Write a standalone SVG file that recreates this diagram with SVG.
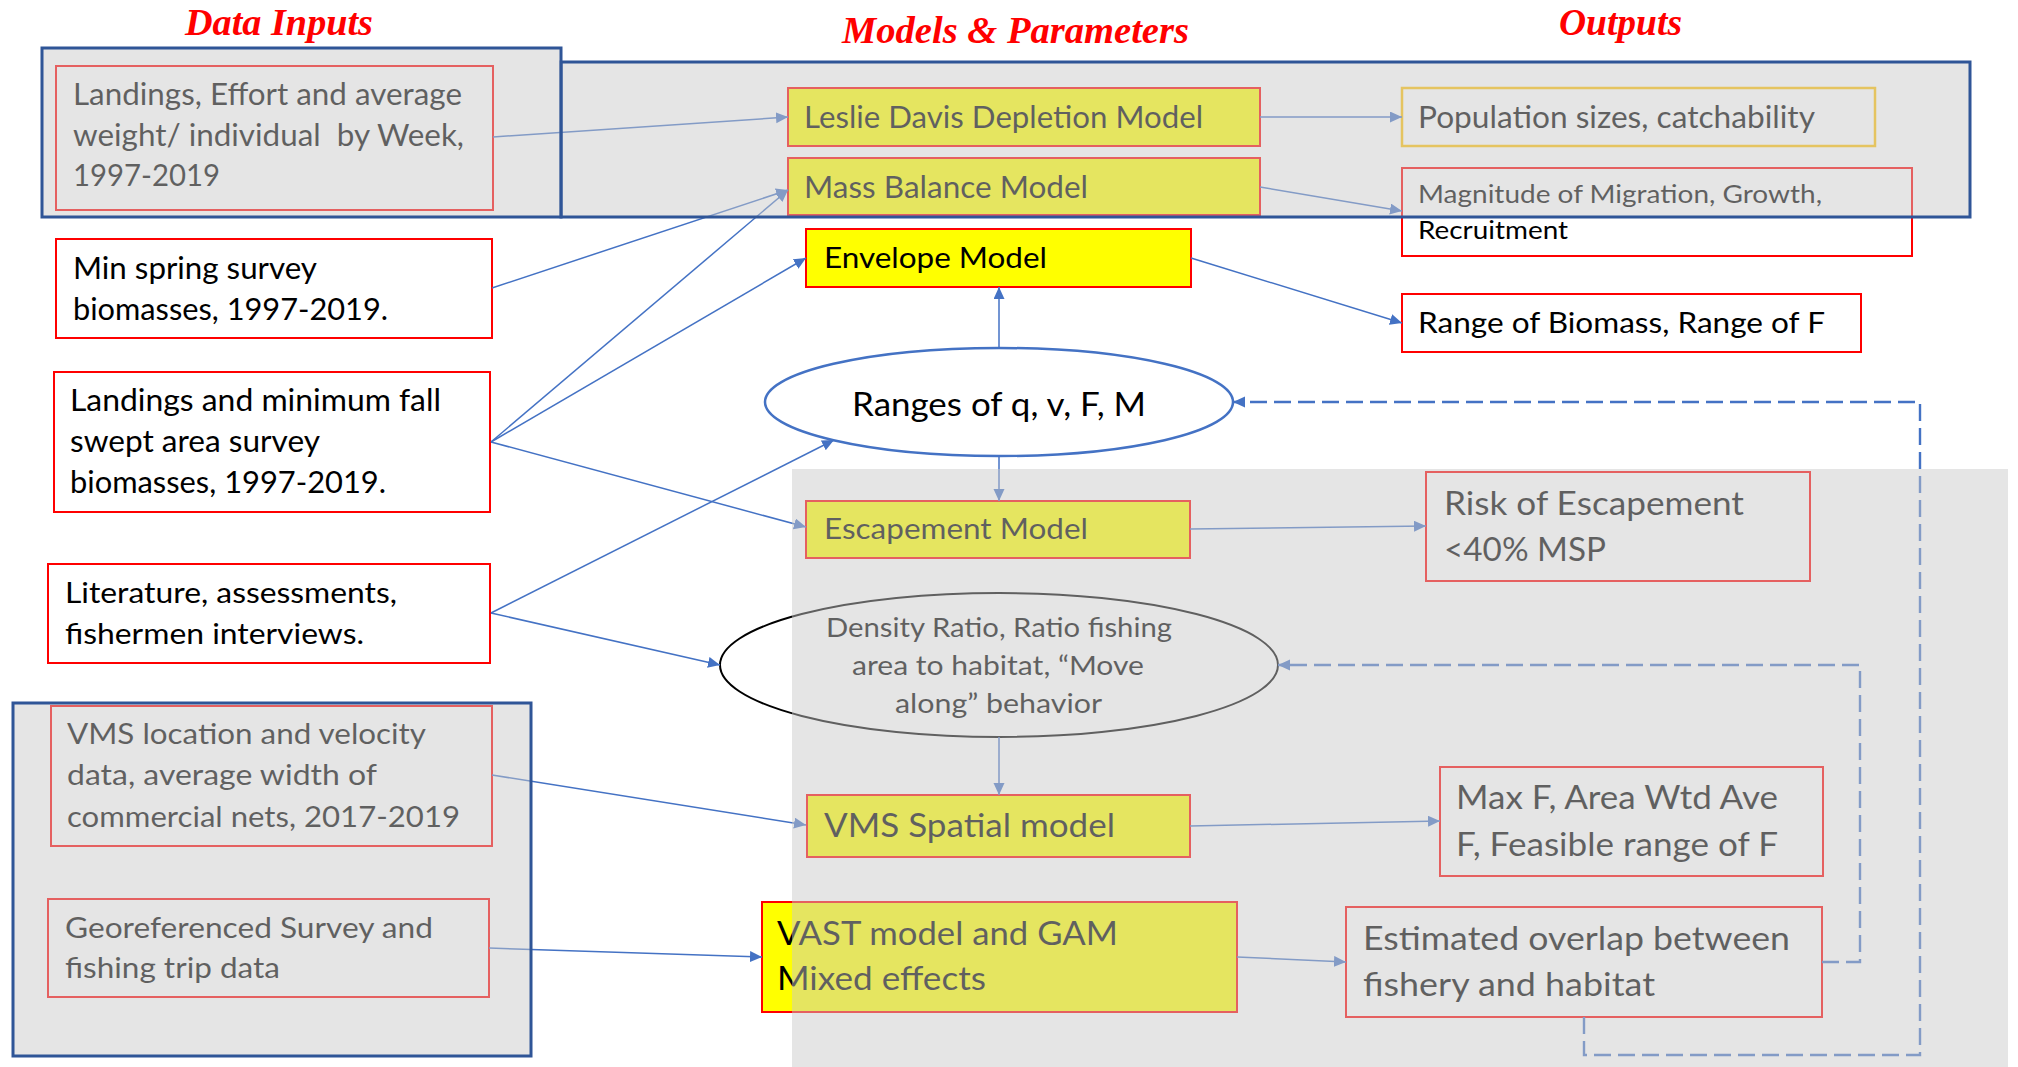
<svg xmlns="http://www.w3.org/2000/svg" width="2018" height="1067" viewBox="0 0 2018 1067">
  <style>
    .title { font-family: "Liberation Serif", "Times New Roman", serif; font-weight: bold; font-style: italic; font-size: 38px; fill: #FF0000; }
    .lbl { font-family: Lato, "Open Sans", sans-serif; fill: #000000; }
    .s25 { font-size: 25px; }
    .s26 { font-size: 26.5px; }
    .s28 { font-size: 28px; }
    .s30 { font-size: 30px; }
    .s32 { font-size: 32px; }
    .box { fill: #FFFFFF; stroke: #FF0000; stroke-width: 2; }
    .ybox { fill: #FFFF00; stroke: #FF0000; stroke-width: 2; }
    .gbox { fill: #FFFFFF; stroke: #FFC000; stroke-width: 2.5; }
    .conn { fill: none; stroke: #4472C4; stroke-width: 1.5; marker-end: url(#arrow); }
    .dash { fill: none; stroke: #4472C4; stroke-width: 2.4; stroke-dasharray: 17 7; marker-end: url(#arrow); }
    .veil { fill: #C9C9C9; fill-opacity: 0.48; }
    .frame { stroke: #2F5597; stroke-width: 3; }
  </style>
  <defs>
    <marker id="arrow" markerUnits="userSpaceOnUse" markerWidth="13" markerHeight="12" refX="12" refY="5.5" orient="auto">
      <path d="M0,0 L12,5.5 L0,11 Z" fill="#4472C4"/>
    </marker>
  </defs>

  <rect x="0" y="0" width="2018" height="1067" fill="#FFFFFF"/>

  <!-- column headings -->
  <g id="headings">
    <text class="title" x="185" y="35" textLength="188" lengthAdjust="spacingAndGlyphs">Data Inputs</text>
    <text class="title" x="842" y="43" textLength="347" lengthAdjust="spacingAndGlyphs">Models &amp; Parameters</text>
    <text class="title" x="1559" y="35" textLength="123" lengthAdjust="spacingAndGlyphs">Outputs</text>
  </g>

  <!-- data inputs -->
  <g id="in-landings-effort">
    <rect class="box" x="56" y="66" width="437" height="144"/>
    <text class="lbl s30" x="73" y="105" textLength="389" lengthAdjust="spacingAndGlyphs">Landings, Effort and average</text>
    <text class="lbl s30" x="73" y="146" textLength="391" lengthAdjust="spacingAndGlyphs" xml:space="preserve">weight/ individual  by Week,</text>
    <text class="lbl s30" x="73" y="186" textLength="147" lengthAdjust="spacingAndGlyphs">1997-2019</text>
  </g>
  <g id="in-spring-survey">
    <rect class="box" x="56" y="239" width="436" height="99"/>
    <text class="lbl s29 s30" x="73" y="279" textLength="244" lengthAdjust="spacingAndGlyphs">Min spring survey</text>
    <text class="lbl s30" x="73" y="320" textLength="315" lengthAdjust="spacingAndGlyphs">biomasses, 1997-2019.</text>
  </g>
  <g id="in-fall-survey">
    <rect class="box" x="54" y="372" width="436" height="140"/>
    <text class="lbl s30" x="70" y="411" textLength="371" lengthAdjust="spacingAndGlyphs">Landings and minimum fall</text>
    <text class="lbl s30" x="70" y="452" textLength="250" lengthAdjust="spacingAndGlyphs">swept area survey</text>
    <text class="lbl s30" x="70" y="493" textLength="316" lengthAdjust="spacingAndGlyphs">biomasses, 1997-2019.</text>
  </g>
  <g id="in-literature">
    <rect class="box" x="48" y="564" width="442" height="99"/>
    <text class="lbl s28" x="65" y="603" textLength="332" lengthAdjust="spacingAndGlyphs">Literature, assessments,</text>
    <text class="lbl s28" x="65" y="644" textLength="299" lengthAdjust="spacingAndGlyphs">fishermen interviews.</text>
  </g>
  <g id="in-vms-data">
    <rect class="box" x="51" y="706" width="441" height="140"/>
    <text class="lbl s28" x="67" y="744" textLength="359" lengthAdjust="spacingAndGlyphs">VMS location and velocity</text>
    <text class="lbl s28" x="67" y="785" textLength="310" lengthAdjust="spacingAndGlyphs">data, average width of</text>
    <text class="lbl s28" x="67" y="827" textLength="393" lengthAdjust="spacingAndGlyphs">commercial nets, 2017-2019</text>
  </g>
  <g id="in-georeferenced">
    <rect class="box" x="48" y="899" width="441" height="98"/>
    <text class="lbl s28" x="65" y="938" textLength="368" lengthAdjust="spacingAndGlyphs">Georeferenced Survey and</text>
    <text class="lbl s28" x="65" y="978" textLength="215" lengthAdjust="spacingAndGlyphs">fishing trip data</text>
  </g>

  <!-- models and parameters -->
  <g id="m-leslie-davis">
    <rect class="ybox" x="788" y="88" width="472" height="58"/>
    <text class="lbl s30" x="804" y="128" textLength="399" lengthAdjust="spacingAndGlyphs">Leslie Davis Depletion Model</text>
  </g>
  <g id="m-mass-balance">
    <rect class="ybox" x="788" y="158" width="472" height="57"/>
    <text class="lbl s30" x="804" y="198" textLength="284" lengthAdjust="spacingAndGlyphs">Mass Balance Model</text>
  </g>
  <g id="m-envelope">
    <rect class="ybox" x="806" y="229" width="385" height="58"/>
    <text class="lbl s28" x="824" y="268" textLength="223" lengthAdjust="spacingAndGlyphs">Envelope Model</text>
  </g>
  <g id="p-ranges">
    <ellipse cx="999" cy="402" rx="234" ry="54" fill="#FFFFFF" stroke="#4472C4" stroke-width="2.5"/>
    <text class="lbl s32" x="852" y="416" textLength="294" lengthAdjust="spacingAndGlyphs">Ranges of q, v, F, M</text>
  </g>
  <g id="m-escapement">
    <rect class="ybox" x="806" y="501" width="384" height="57"/>
    <text class="lbl s28" x="824" y="539" textLength="264" lengthAdjust="spacingAndGlyphs">Escapement Model</text>
  </g>
  <g id="p-density">
    <ellipse cx="999" cy="665" rx="279" ry="72" fill="#FFFFFF" stroke="#000000" stroke-width="2"/>
    <text class="lbl s26" x="826" y="637" textLength="346" lengthAdjust="spacingAndGlyphs">Density Ratio, Ratio fishing</text>
    <text class="lbl s26" x="852" y="675" textLength="292" lengthAdjust="spacingAndGlyphs">area to habitat, “Move</text>
    <text class="lbl s26" x="895" y="713" textLength="207" lengthAdjust="spacingAndGlyphs">along” behavior</text>
  </g>
  <g id="m-vms-spatial">
    <rect class="ybox" x="807" y="795" width="383" height="62"/>
    <text class="lbl s32" x="824" y="837" textLength="291" lengthAdjust="spacingAndGlyphs">VMS Spatial model</text>
  </g>
  <g id="m-vast">
    <rect class="ybox" x="762" y="902" width="475" height="110"/>
    <text class="lbl s32" x="777" y="945" textLength="341" lengthAdjust="spacingAndGlyphs">VAST model and GAM</text>
    <text class="lbl s32" x="777" y="990" textLength="209" lengthAdjust="spacingAndGlyphs">Mixed effects</text>
  </g>

  <!-- outputs -->
  <g id="o-population">
    <rect class="gbox" x="1402" y="88" width="473" height="58"/>
    <text class="lbl s30" x="1418" y="128" textLength="397" lengthAdjust="spacingAndGlyphs">Population sizes, catchability</text>
  </g>
  <g id="o-magnitude">
    <rect class="box" x="1402" y="168" width="510" height="88"/>
    <text class="lbl s25" x="1418" y="203" textLength="404" lengthAdjust="spacingAndGlyphs">Magnitude of Migration, Growth,</text>
    <text class="lbl s25" x="1418" y="239" textLength="150" lengthAdjust="spacingAndGlyphs">Recruitment</text>
  </g>
  <g id="o-range-biomass">
    <rect class="box" x="1402" y="294" width="459" height="58"/>
    <text class="lbl s28" x="1418" y="333" textLength="407" lengthAdjust="spacingAndGlyphs">Range of Biomass, Range of F</text>
  </g>
  <g id="o-risk">
    <rect class="box" x="1426" y="472" width="384" height="109"/>
    <text class="lbl s32" x="1444" y="515" textLength="300" lengthAdjust="spacingAndGlyphs">Risk of Escapement</text>
    <text class="lbl s32" x="1444" y="561" textLength="162" lengthAdjust="spacingAndGlyphs">&lt;40% MSP</text>
  </g>
  <g id="o-max-f">
    <rect class="box" x="1440" y="767" width="383" height="109"/>
    <text class="lbl s32" x="1456" y="809" textLength="322" lengthAdjust="spacingAndGlyphs">Max F, Area Wtd Ave</text>
    <text class="lbl s32" x="1456" y="856" textLength="322" lengthAdjust="spacingAndGlyphs">F, Feasible range of F</text>
  </g>
  <g id="o-overlap">
    <rect class="box" x="1346" y="907" width="476" height="110"/>
    <text class="lbl s32" x="1363" y="950" textLength="427" lengthAdjust="spacingAndGlyphs">Estimated overlap between</text>
    <text class="lbl s32" x="1363" y="996" textLength="292" lengthAdjust="spacingAndGlyphs">fishery and habitat</text>
  </g>

  <!-- connectors -->
  <g id="connectors">
    <line class="conn" x1="493" y1="137" x2="788" y2="117"/>
    <line class="conn" x1="492" y1="288" x2="788" y2="190"/>
    <line class="conn" x1="491" y1="442" x2="788" y2="190"/>
    <line class="conn" x1="491" y1="442" x2="806" y2="258"/>
    <line class="conn" x1="491" y1="442" x2="806" y2="527"/>
    <line class="conn" x1="491" y1="613" x2="834" y2="440"/>
    <line class="conn" x1="491" y1="613" x2="720" y2="665"/>
    <line class="conn" x1="492" y1="775" x2="806" y2="825"/>
    <line class="conn" x1="489" y1="948" x2="762" y2="957"/>
    <line class="conn" x1="1260" y1="117" x2="1402" y2="117"/>
    <line class="conn" x1="1260" y1="187" x2="1402" y2="211"/>
    <line class="conn" x1="1191" y1="258" x2="1402" y2="323"/>
    <line class="conn" x1="999" y1="348" x2="999" y2="287"/>
    <line class="conn" x1="999" y1="456" x2="999" y2="501"/>
    <line class="conn" x1="1190" y1="529" x2="1426" y2="526"/>
    <line class="conn" x1="999" y1="737" x2="999" y2="795"/>
    <line class="conn" x1="1190" y1="826" x2="1440" y2="821"/>
    <line class="conn" x1="1237" y1="957" x2="1346" y2="962"/>
    <polyline class="dash" points="1822,962 1860,962 1860,665 1278,665"/>
    <polyline class="dash" points="1584,1017 1584,1055 1920,1055 1920,402 1233,402"/>
  </g>

  <!-- translucent grouping panels laid over the boxes they gather -->
  <g id="panels">
    <rect class="veil frame" x="561" y="62" width="1409" height="155"/>
    <rect class="veil frame" x="42" y="48" width="519" height="169"/>
    <rect class="veil frame" x="13" y="703" width="518" height="353"/>
    <rect class="veil" x="792" y="469" width="1216" height="598"/>
  </g>
</svg>
